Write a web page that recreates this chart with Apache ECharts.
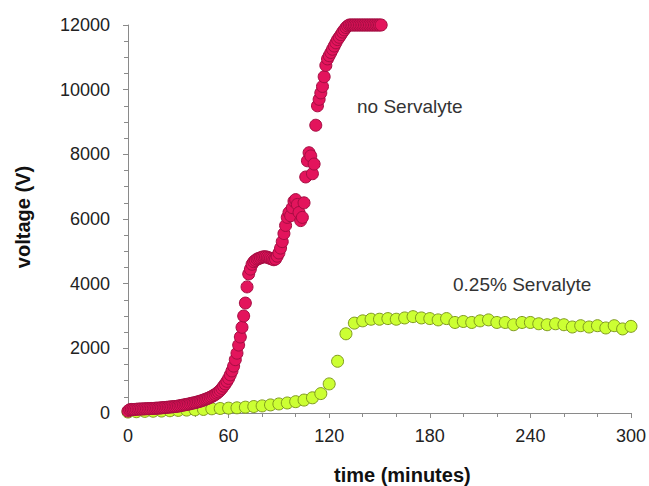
<!DOCTYPE html>
<html>
<head>
<meta charset="utf-8">
<script src="https://cdn.jsdelivr.net/npm/echarts@6/dist/echarts.min.js"></script>
<style>
html,body{margin:0;padding:0;background:#fff;}
#chart{width:649px;height:486px;}
</style>
</head>
<body>
<div id="chart"></div>
<script>
// ---- data ----
var redTime = [
  0,1,2,3,4,5,6,7,8,9,
  10,11,12,13,14,15,16,17,18,19,
  20,21,22,23,24,25,26,27,28,29,
  30,31,32,33,34,35,36,37,38,39,
  40,41,42,43,44,45,46,47,48,49,
  50,51,52,53,54,55,56,57,58,59,
  60,61,62,63,64,65,66,67,68,69,
  70,71,72,73,74,75,76,77,78,79,
  80,81,82,83,84,85,86,87,88,89,
  90,91,92,93,94,95,96,97,98,99,
  100,101,102,103,104,105,106,107,108,109,
  110,111,112,113,114,115,116,117,118,119,
  120,121,122,123,124,125,126,127,128,129,
  130,131,132,133,134,135,136,137,138,139,
  140,141,142,143,144,145,146,147,148,149,
  150,151
];
var redVolt = [
  60,100,110,110,110,115,120,120,125,125,
  130,130,135,135,140,140,145,150,150,155,
  160,165,170,175,180,185,190,195,200,205,
  215,225,235,245,255,265,275,285,300,310,
  320,335,350,365,380,400,420,440,460,485,
  510,540,570,610,650,700,760,830,900,980,
  1070,1180,1300,1450,1650,1850,2100,2350,2650,3000,
  3400,3900,4300,4450,4600,4680,4720,4760,4780,4800,
  4820,4830,4830,4820,4800,4780,4760,4740,4760,4850,
  4950,5100,5300,5550,5800,6050,6200,6100,6350,6550,
  6600,6450,6200,5950,6050,6500,7300,7800,8050,7950,
  7400,7700,8900,9500,9700,9900,10100,10400,10750,10950,
  11050,11150,11250,11350,11450,11550,11620,11700,11780,11850,
  11920,11970,12000,12000,12000,12000,12000,12000,12000,12000,
  12000,12000,12000,12000,12000,12000,12000,12000,12000,12000,
  12000,12000
];
var greenTime = [
  0,5,10,15,20,25,30,35,40,45,50,55,60,65,70,75,80,85,90,95,
  100,105,110,115,120,125,130,135,140,145,150,155,160,165,170,175,180,185,190,195,
  200,205,210,215,220,225,230,235,240,245,250,255,260,265,270,275,280,285,290,295,300
];
var greenVolt = [
  30,40,50,55,60,70,80,90,100,110,130,140,150,160,180,200,220,250,280,310,
  350,400,470,600,900,1600,2450,2780,2850,2900,2900,2920,2900,2940,2980,2940,2920,2880,2920,2800,
  2830,2800,2850,2880,2800,2800,2730,2800,2800,2760,2730,2760,2730,2660,2700,2660,2700,2630,2700,2600,2680
];
var xTicks = [0, 60, 120, 180, 240, 300];
var yTicks = [0, 2000, 4000, 6000, 8000, 10000, 12000];
var xTitle = 'time (minutes)';
var yTitle = 'voltage (V)';
var redLabel = 'no Servalyte';
var greenLabel = '0.25% Servalyte';

function pairs(xs, ys) {
  var out = [];
  for (var i = 0; i < xs.length; i++) out.push([xs[i], ys[i]]);
  return out;
}

var chart = echarts.init(document.getElementById('chart'), null, {renderer: 'svg'});
var FONT = '"Liberation Sans", Arial, sans-serif';
var axisGray = '#8a8a8a';

chart.setOption({
  backgroundColor: '#ffffff',
  animation: false,
  grid: {left: 128, right: 16, top: 25, bottom: 73, containLabel: false},
  xAxis: {
    type: 'value',
    min: xTicks[0], max: xTicks[xTicks.length - 1], interval: 60,
    axisLine: {show: true, onZero: false, lineStyle: {color: axisGray, width: 1}},
    axisTick: {show: true, inside: false, length: 5, lineStyle: {color: axisGray}},
    minorTick: {show: true, splitNumber: 3, length: 4, lineStyle: {color: axisGray}},
    splitLine: {show: false},
    minorSplitLine: {show: false},
    axisLabel: {margin: 14, color: '#222', fontSize: 18, fontFamily: FONT,
                formatter: function (v) { return String(v); }}
  },
  yAxis: {
    type: 'value',
    min: yTicks[0], max: yTicks[yTicks.length - 1], interval: 2000,
    axisLine: {show: true, lineStyle: {color: axisGray, width: 1}},
    axisTick: {show: true, inside: false, length: 5, lineStyle: {color: axisGray}},
    minorTick: {show: true, splitNumber: 4, length: 4, lineStyle: {color: axisGray}},
    splitLine: {show: false},
    minorSplitLine: {show: false},
    axisLabel: {margin: 18, color: '#222', fontSize: 18, fontFamily: FONT,
                formatter: function (v) { return String(v); }}
  },
  graphic: [
    {type: 'text', left: 334, top: 465,
     style: {text: xTitle, fontSize: 20, fontWeight: 'bold', fontFamily: FONT, fill: '#111'}},
    {type: 'text', x: 23, y: 217, rotation: Math.PI / 2,
     style: {text: yTitle, fontSize: 20, fontWeight: 'bold', fontFamily: FONT, fill: '#111',
             textAlign: 'center', textVerticalAlign: 'middle'}},
    {type: 'text', left: 357, top: 97,
     style: {text: redLabel, fontSize: 19, fontFamily: FONT, fill: '#333'}},
    {type: 'text', left: 453, top: 275,
     style: {text: greenLabel, fontSize: 19, fontFamily: FONT, fill: '#333'}}
  ],
  series: [
    {
      name: greenLabel,
      type: 'scatter',
      symbol: 'circle',
      symbolSize: 12,
      itemStyle: {color: '#ccff33', borderColor: '#7f9a1e', borderWidth: 1, opacity: 1},
      data: pairs(greenTime, greenVolt),
      z: 2
    },
    {
      name: redLabel,
      type: 'scatter',
      symbol: 'circle',
      symbolSize: 12,
      itemStyle: {color: '#e3145c', borderColor: '#a50d42', borderWidth: 1, opacity: 1},
      data: pairs(redTime, redVolt),
      z: 3
    }
  ]
});
</script>
</body>
</html>
